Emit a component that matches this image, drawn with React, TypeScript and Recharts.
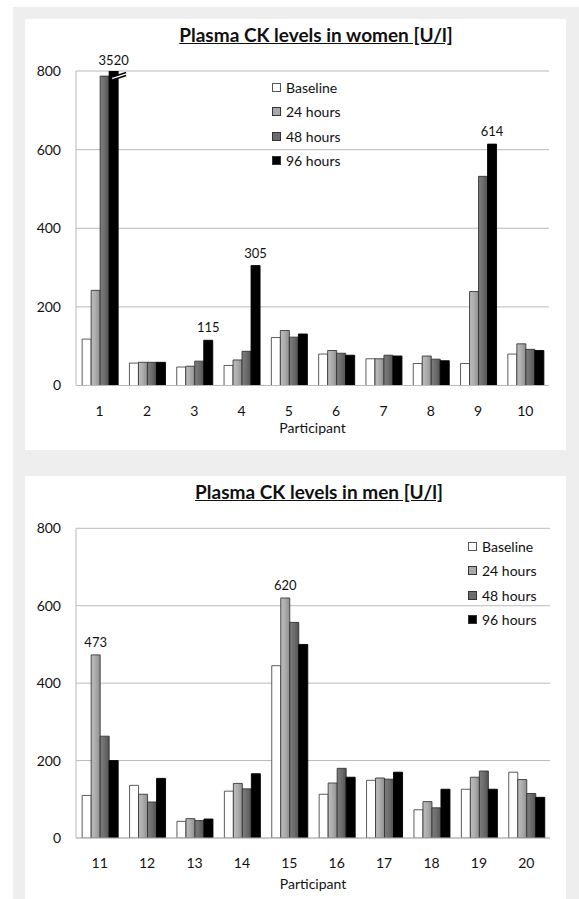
import React from 'react';
import { BarChart, Bar, XAxis, YAxis, CartesianGrid, Legend, LabelList, Label } from 'recharts';

// ---------- data ----------
const womenParticipants = ['1', '2', '3', '4', '5', '6', '7', '8', '9', '10'];
const womenBaseline = [118, 57, 47, 51, 122, 80, 68, 56, 56, 80];
const women24h = [242, 59, 49, 65, 140, 89, 68, 75, 239, 106];
const women48h = [787, 59, 62, 87, 123, 82, 77, 67, 532, 92];
const women96h = [3520, 59, 115, 305, 131, 77, 75, 63, 614, 89];

const menParticipants = ['11', '12', '13', '14', '15', '16', '17', '18', '19', '20'];
const menBaseline = [110, 136, 43, 121, 445, 113, 149, 73, 126, 170];
const men24h = [473, 113, 50, 141, 620, 142, 155, 94, 157, 151];
const men48h = [263, 93, 45, 127, 557, 180, 152, 78, 173, 115];
const men96h = [200, 154, 49, 166, 500, 157, 170, 126, 126, 105];

const yTicks = [0, 200, 400, 600, 800];
const seriesNames = ['Baseline', '24 hours', '48 hours', '96 hours'];
const seriesKeys = ['baseline', 'h24', 'h48', 'h96'];

// annotated bars (value labels)
const womenAnnotated = ['1', '3', '4', '9']; // on 96 hours
const menAnnotated = ['11', '15']; // on 24 hours

const womenTitle = 'Plasma CK levels in women [U/l]';
const menTitle = 'Plasma CK levels in men [U/l]';
const xTitle = 'Participant';

const build = (parts: string[], a: number[], b: number[], c: number[], d: number[]) =>
  parts.map((p, i) => ({ participant: p, baseline: a[i], h24: b[i], h48: c[i], h96: d[i] }));

const womenData = build(womenParticipants, womenBaseline, women24h, women48h, women96h);
const menData = build(menParticipants, menBaseline, men24h, men48h, men96h);

// ---------- styles ----------
const FONT = 'Lato, "Open Sans", sans-serif';
const GRID = '#b9b9b9';
const legendFills = ['#ffffff', '#a9a9a9', '#6d6d6d', '#000000'];
const barStrokes = ['#4a4a4a', '#3a3a3a', '#333333', '#000000'];

const Defs = ({ id }: { id: string }) => (
  <defs>
    <linearGradient id={`${id}-g24`} x1="0" y1="0" x2="1" y2="0">
      <stop offset="0%" stopColor="#bdbdbd" />
      <stop offset="50%" stopColor="#acacac" />
      <stop offset="100%" stopColor="#8e8e8e" />
    </linearGradient>
    <linearGradient id={`${id}-g48`} x1="0" y1="0" x2="1" y2="0">
      <stop offset="0%" stopColor="#7e7e7e" />
      <stop offset="50%" stopColor="#6c6c6c" />
      <stop offset="100%" stopColor="#535353" />
    </linearGradient>
  </defs>
);

const LegendBox = ({ top, left }: { top: number; left: number }) => (
  <div style={{ fontFamily: FONT, fontSize: 14, color: '#111' }}>
    {seriesNames.map((n, i) => (
      <div key={n} style={{ display: 'flex', alignItems: 'center', height: 24.5 }}>
        <div
          style={{
            width: 7,
            height: 7,
            border: `1px solid ${i === 0 ? '#555' : '#333'}`,
            background: legendFills[i],
            marginRight: 5,
          }}
        />
        <span style={{ whiteSpace: 'nowrap' }}>{n}</span>
      </div>
    ))}
  </div>
);

type PanelProps = {
  id: string;
  data: any[];
  title: string;
  titleCenter: number;
  height: number;
  marginTop: number;
  marginRight: number;
  xAxisHeight: number;
  tickMargin: number;
  xLabelOffset: number;
  legendLeft: number;
  legendTop: number;
  annotated: string[];
  annotatedKey: string;
};

const Panel = (p: PanelProps) => {
  const yMax = yTicks[yTicks.length - 1];
  const renderLabel = (props: any) => {
    const vb = props.viewBox || {};
    const x = props.x ?? vb.x;
    const y = props.y ?? vb.y;
    const width = props.width ?? vb.width;
    const { value, index } = props;
    const row = p.data[index];
    if (!row || !p.annotated.includes(row.participant)) return null;
    const cx = x + width / 2;
    if (value > yMax) {
      const top = p.marginTop;
      const xl = x + width * 0.35;
      const xr = x + width + 8;
      return (
        <g>
          <polygon
            points={`${xl},${top + 6} ${xr},${top + 1.5} ${xr},${top + 4.5} ${xl},${top + 9}`}
            fill="#ffffff"
          />
          <line x1={xl} y1={top + 6} x2={xr} y2={top + 1.5} stroke="#000" strokeWidth={1.4} />
          <line x1={xl} y1={top + 9} x2={xr} y2={top + 4.5} stroke="#000" strokeWidth={1.4} />
          <text x={cx} y={top - 6} textAnchor="middle" fontSize={13} fontFamily={FONT} fill="#111">
            {value}
          </text>
        </g>
      );
    }
    return (
      <text x={cx} y={y - 8} textAnchor="middle" fontSize={13} fontFamily={FONT} fill="#111">
        {value}
      </text>
    );
  };

  const fills = ['#ffffff', `url(#${p.id}-g24)`, `url(#${p.id}-g48)`, '#000000'];

  return (
    <div style={{ position: 'relative', width: 541, height: p.height, background: '#fff' }}>
      <div
        style={{
          position: 'absolute',
          left: p.titleCenter - 200,
          width: 400,
          top: 6,
          textAlign: 'center',
          fontFamily: FONT,
          fontWeight: 700,
          fontSize: 19,
          lineHeight: '19px',
          textDecoration: 'underline',
          color: '#111',
          zIndex: 2,
        }}
      >
        {p.title}
      </div>
      <BarChart
        width={541}
        height={p.height}
        data={p.data}
        margin={{ top: p.marginTop, right: p.marginRight, left: 0, bottom: 0 }}
        barCategoryGap="13%"
        barGap={0}
      >
        <Defs id={p.id} />
        <CartesianGrid vertical={false} stroke={GRID} strokeWidth={1} />
        <XAxis
          dataKey="participant"
          interval={0}
          height={p.xAxisHeight}
          tickLine={false}
          tickSize={0}
          tickMargin={p.tickMargin}
          axisLine={{ stroke: GRID }}
          tick={{ fontSize: 14, fill: '#111', fontFamily: FONT }}
        >
          <Label
            value={xTitle}
            position="insideBottom"
            offset={p.xLabelOffset}
            style={{ fontSize: 14, fill: '#111', fontFamily: FONT }}
          />
        </XAxis>
        <YAxis
          width={51}
          domain={[0, yMax]}
          ticks={yTicks}
          allowDataOverflow
          tickLine={false}
          tickSize={0}
          tickMargin={15}
          axisLine={{ stroke: GRID }}
          tick={{ fontSize: 14, fill: '#111', fontFamily: FONT }}
        />
        <Legend
          layout="vertical"
          align="center"
          verticalAlign="middle"
          wrapperStyle={{ left: p.legendLeft, top: p.legendTop, width: 'auto', height: 'auto' }}
          content={() => <LegendBox top={0} left={0} />}
        />
        {seriesKeys.map((k, i) => (
          <Bar
            key={k}
            dataKey={k}
            name={seriesNames[i]}
            fill={fills[i]}
            stroke={barStrokes[i]}
            strokeWidth={0.9}
            isAnimationActive={false}
          >
            {k === p.annotatedKey && <LabelList dataKey={k} content={renderLabel} />}
          </Bar>
        ))}
      </BarChart>
    </div>
  );
};

export default function App() {
  return (
    <div
      style={{
        position: 'absolute',
        left: 0,
        top: 0,
        width: 579,
        height: 899,
        background: '#ffffff',
        overflow: 'hidden',
      }}
    >
      <div style={{ position: 'absolute', left: 13, top: 7, width: 566, height: 892, background: '#eeeeee' }} />
      <div style={{ position: 'absolute', left: 25, top: 19 }}>
        <Panel
          id="women"
          data={womenData}
          title={womenTitle}
          titleCenter={291}
          height={431}
          marginTop={52}
          marginRight={17}
          xAxisHeight={64.5}
          tickMargin={21}
          xLabelOffset={17}
          legendLeft={247}
          legendTop={56}
          annotated={womenAnnotated}
          annotatedKey="h96"
        />
      </div>
      <div style={{ position: 'absolute', left: 25, top: 476 }}>
        <Panel
          id="men"
          data={menData}
          title={menTitle}
          titleCenter={294}
          height={423}
          marginTop={52.3}
          marginRight={16}
          xAxisHeight={61}
          tickMargin={20}
          xLabelOffset={10}
          legendLeft={443}
          legendTop={58}
          annotated={menAnnotated}
          annotatedKey="h24"
        />
      </div>
    </div>
  );
}
